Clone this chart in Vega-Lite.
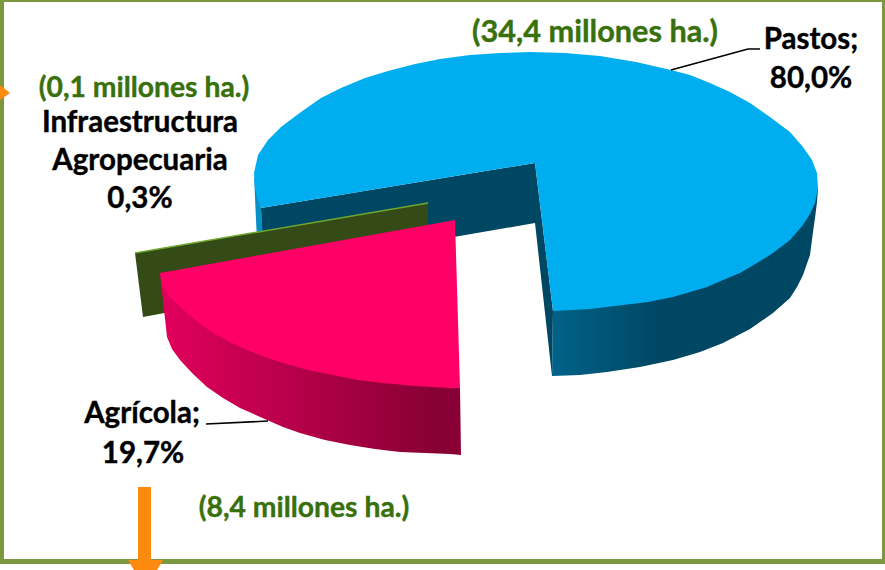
{"$schema":"https://vega.github.io/schema/vega-lite/v6.json","width":885,"height":570,"autosize":{"type":"fit","contains":"padding"},"padding":0,"background":"white","view":{"stroke":null},
"config":{"axis":{"disable":true},"legend":{"disable":true}},
"datasets":{"labels":[
{"label":"(34,4 millones ha.)","x":595,"y":42,"kind":"area"},
{"label":"(0,1 millones ha.)","x":144,"y":97,"kind":"area"},
{"label":"(8,4 millones ha.)","x":304,"y":517,"kind":"area"},
{"label":"Pastos;","x":811,"y":49,"kind":"share"},
{"label":"80,0%","x":811,"y":88,"kind":"share"},
{"label":"Infraestructura","x":140,"y":132,"kind":"share"},
{"label":"Agropecuaria","x":140,"y":170,"kind":"share"},
{"label":"0,3%","x":140,"y":208,"kind":"share"},
{"label":"Agrícola;","x":142,"y":423,"kind":"share"},
{"label":"19,7%","x":143,"y":463,"kind":"share"}
],
"blueSide":[{"i":0,"x":818,"y":188},{"i":1,"x":817,"y":202},{"i":2,"x":815,"y":218},{"i":3,"x":813,"y":232},{"i":4,"x":810,"y":255},{"i":5,"x":803,"y":275},{"i":6,"x":797,"y":287},{"i":7,"x":790,"y":298},{"i":8,"x":773,"y":313},{"i":9,"x":750,"y":329},{"i":10,"x":723,"y":343},{"i":11,"x":700,"y":352},{"i":12,"x":673,"y":360},{"i":13,"x":640,"y":367},{"i":14,"x":607,"y":372},{"i":15,"x":580,"y":375},{"i":16,"x":552,"y":376},{"i":17,"x":553,"y":311},{"i":18,"x":700,"y":200}],
"blueWall":[{"i":0,"x":535,"y":163},{"i":1,"x":261,"y":208},{"i":2,"x":263,"y":270},{"i":3,"x":535,"y":223},{"i":4,"x":552,"y":376},{"i":5,"x":553,"y":311}],
"blueStrip":[{"i":0,"x":254,"y":175},{"i":1,"x":261,"y":208},{"i":2,"x":263,"y":240},{"i":3,"x":257,"y":240},{"i":4,"x":256,"y":220}],
"blueTop":[{"i":0,"x":535,"y":163},{"i":1,"x":261,"y":208},{"i":2,"x":257,"y":197},{"i":3,"x":255,"y":188},{"i":4,"x":254,"y":173},{"i":5,"x":258,"y":155},{"i":6,"x":268,"y":140},{"i":7,"x":281,"y":127},{"i":8,"x":301,"y":112},{"i":9,"x":321,"y":98},{"i":10,"x":341,"y":88},{"i":11,"x":365,"y":78},{"i":12,"x":388,"y":71},{"i":13,"x":415,"y":64},{"i":14,"x":440,"y":59},{"i":15,"x":470,"y":55},{"i":16,"x":500,"y":53},{"i":17,"x":530,"y":52},{"i":18,"x":565,"y":53},{"i":19,"x":600,"y":56},{"i":20,"x":636,"y":62},{"i":21,"x":671,"y":70},{"i":22,"x":690,"y":75},{"i":23,"x":710,"y":83},{"i":24,"x":730,"y":92},{"i":25,"x":750,"y":103},{"i":26,"x":770,"y":117},{"i":27,"x":790,"y":132},{"i":28,"x":803,"y":147},{"i":29,"x":812,"y":160},{"i":30,"x":817,"y":173},{"i":31,"x":818,"y":188},{"i":32,"x":815,"y":203},{"i":33,"x":810,"y":214},{"i":34,"x":803,"y":225},{"i":35,"x":790,"y":240},{"i":36,"x":773,"y":253},{"i":37,"x":757,"y":263},{"i":38,"x":740,"y":273},{"i":39,"x":723,"y":280},{"i":40,"x":707,"y":287},{"i":41,"x":690,"y":292},{"i":42,"x":673,"y":297},{"i":43,"x":648,"y":302},{"i":44,"x":623,"y":305},{"i":45,"x":590,"y":309},{"i":46,"x":553,"y":311}],
"olive":[{"i":0,"x":135,"y":253},{"i":1,"x":428,"y":203},{"i":2,"x":428,"y":240},{"i":3,"x":170,"y":312},{"i":4,"x":143,"y":317}],
"oliveEdge":[{"i":0,"x":135,"y":253},{"i":1,"x":428,"y":203}],
"pinkSide":[{"i":0,"x":160,"y":273},{"i":1,"x":167,"y":337},{"i":2,"x":172,"y":349},{"i":3,"x":180,"y":360},{"i":4,"x":193,"y":374},{"i":5,"x":207,"y":387},{"i":6,"x":223,"y":398},{"i":7,"x":240,"y":408},{"i":8,"x":267,"y":420},{"i":9,"x":283,"y":427},{"i":10,"x":300,"y":433},{"i":11,"x":325,"y":440},{"i":12,"x":350,"y":445},{"i":13,"x":375,"y":449},{"i":14,"x":400,"y":452},{"i":15,"x":425,"y":453},{"i":16,"x":450,"y":454},{"i":17,"x":461,"y":455},{"i":18,"x":460,"y":388}],
"pinkTop":[{"i":0,"x":455,"y":220},{"i":1,"x":160,"y":273},{"i":2,"x":162,"y":285},{"i":3,"x":170,"y":297},{"i":4,"x":187,"y":313},{"i":5,"x":199,"y":323},{"i":6,"x":213,"y":333},{"i":7,"x":230,"y":342},{"i":8,"x":247,"y":350},{"i":9,"x":265,"y":357},{"i":10,"x":283,"y":363},{"i":11,"x":308,"y":370},{"i":12,"x":333,"y":375},{"i":13,"x":358,"y":380},{"i":14,"x":383,"y":383},{"i":15,"x":415,"y":386},{"i":16,"x":450,"y":388},{"i":17,"x":460,"y":388}],
"frame":[{"i":0,"x":0,"y":0},{"i":1,"x":885,"y":0},{"i":2,"x":885,"y":564},{"i":3,"x":0,"y":564},{"i":4,"x":0,"y":2},{"i":5,"x":4,"y":2},{"i":6,"x":4,"y":559},{"i":7,"x":882,"y":559},{"i":8,"x":882,"y":2},{"i":9,"x":0,"y":2}],
"arrowLeft":[{"i":0,"x":0,"y":85},{"i":1,"x":10,"y":93},{"i":2,"x":0,"y":100}],
"arrowDown":[{"i":0,"x":138,"y":487},{"i":1,"x":151,"y":487},{"i":2,"x":151,"y":560},{"i":3,"x":163,"y":560},{"i":4,"x":157,"y":570},{"i":5,"x":134,"y":570},{"i":6,"x":128,"y":560},{"i":7,"x":138,"y":560}],
"leaderPastos":[{"i":0,"x":671,"y":70},{"i":1,"x":748,"y":49},{"i":2,"x":760,"y":49}],
"leaderAgricola":[{"i":0,"x":206,"y":424},{"i":1,"x":268,"y":421}]
},
"encoding":{"x":{"field":"x","type":"quantitative","scale":{"domain":[0,885],"nice":false,"zero":false},"axis":null},"y":{"field":"y","type":"quantitative","scale":{"domain":[570,0],"nice":false,"zero":false},"axis":null},"order":{"field":"i","type":"quantitative"}},
"layer":[
{"data":{"name":"blueSide"},"mark":{"type":"line","strokeWidth":0,"fill":{"gradient":"linear","x1":0,"y1":0,"x2":1,"y2":0,"stops":[{"offset":0,"color":"#006289"},{"offset":0.4,"color":"#004763"},{"offset":1,"color":"#004763"}]}}},
{"data":{"name":"blueWall"},"mark":{"type":"line","strokeWidth":0,"fill":"#004763"}},
{"data":{"name":"blueStrip"},"mark":{"type":"line","strokeWidth":0,"fill":"#0a8fc4"}},
{"data":{"name":"blueTop"},"mark":{"type":"line","strokeWidth":0,"fill":"#00aeef"}},
{"data":{"name":"olive"},"mark":{"type":"line","strokeWidth":0,"fill":"#344a17"}},
{"data":{"name":"oliveEdge"},"mark":{"type":"line","strokeWidth":1.5,"color":"#6fa82e"}},
{"data":{"name":"pinkSide"},"mark":{"type":"line","strokeWidth":0,"fill":{"gradient":"linear","x1":0,"y1":0,"x2":1,"y2":0,"stops":[{"offset":0,"color":"#e2005d"},{"offset":0.92,"color":"#870034"},{"offset":1,"color":"#8a0036"}]}}},
{"data":{"name":"pinkTop"},"mark":{"type":"line","strokeWidth":0,"fill":"#ff0066"}},
{"data":{"name":"frame"},"mark":{"type":"line","strokeWidth":0,"fill":"#7c983f"}},
{"data":{"name":"arrowLeft"},"mark":{"type":"line","strokeWidth":0,"fill":"#fb8a0e"}},
{"data":{"name":"arrowDown"},"mark":{"type":"line","strokeWidth":0,"fill":"#fb8a0e"}},
{"data":{"name":"leaderPastos"},"mark":{"type":"line","strokeWidth":1.6,"color":"#000000"}},
{"data":{"name":"leaderAgricola"},"mark":{"type":"line","strokeWidth":1.6,"color":"#000000"}},
{"data":{"name":"labels"},"transform":[{"filter":"datum.kind==='share'"}],"mark":{"type":"text","font":"Lato","fontWeight":"bold","fontSize":29.5,"align":"center","baseline":"alphabetic","color":"#000000","stroke":"#000000","strokeWidth":0.4},"encoding":{"text":{"field":"label"},"order":{"value":null}}},
{"data":{"name":"labels"},"transform":[{"filter":"datum.kind==='area' && datum.x!==595"}],"mark":{"type":"text","font":"Lato","fontWeight":"bold","fontSize":28.3,"align":"center","baseline":"alphabetic","color":"#38700c","stroke":"#38700c","strokeWidth":0.4},"encoding":{"text":{"field":"label"},"order":{"value":null}}},
{"data":{"name":"labels"},"transform":[{"filter":"datum.x===595"}],"mark":{"type":"text","font":"Lato","fontWeight":"bold","fontSize":30.7,"align":"center","baseline":"alphabetic","color":"#38700c","stroke":"#38700c","strokeWidth":0.4},"encoding":{"text":{"field":"label"},"order":{"value":null}}}
]}
